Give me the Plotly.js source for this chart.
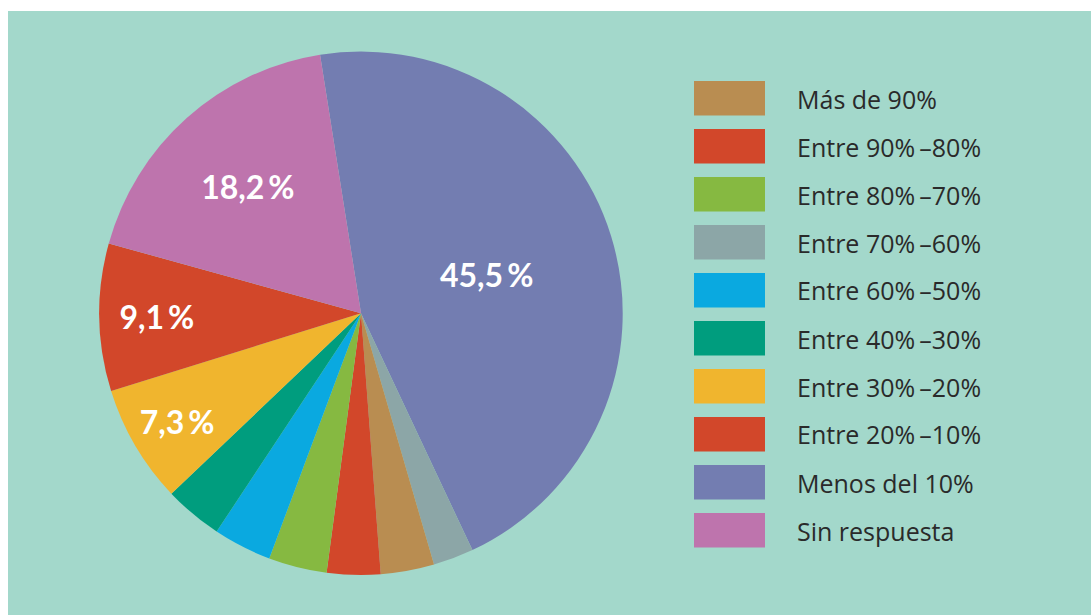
<!DOCTYPE html>
<html>
<head>
<meta charset="utf-8">
<script src="https://cdn.plot.ly/plotly-3.0.1.min.js"></script>
<style>
  html, body { margin: 0; padding: 0; background: #ffffff; width: 1091px; height: 615px; overflow: hidden; }
  #chart { position: absolute; left: 8px; top: 11px; width: 1083px; height: 604px; }
</style>
</head>
<body>
<div id="chart"></div>
<script>
// Categories, in legend order
const categories = ['Más de 90%', 'Entre 90%\u2009–80%', 'Entre 80%\u2009–70%', 'Entre 70%\u2009–60%',
  'Entre 60%\u2009–50%', 'Entre 40%\u2009–30%', 'Entre 30%\u2009–20%', 'Entre 20%\u2009–10%',
  'Menos del 10%', 'Sin respuesta'];
// Share of answers (%)
const values = [3.3, 3.3, 3.6, 2.5, 3.6, 3.6, 7.3, 9.1, 45.5, 18.2];
const colors = ['#b98d51', '#d2472a', '#86b941', '#8ca6a7', '#0aa9e0', '#009d7e', '#f0b52e', '#d2472a', '#737db1', '#be74ad'];
// Order of slices clockwise from the top of the pie
const sliceOrder = [8, 3, 0, 1, 2, 4, 5, 6, 7, 9];
// Values shown as labels inside the pie
const labelMin = 5;

const fmt = v => v >= labelMin ? v.toFixed(1).replace('.', ',') + '\u2009%' : '';

const pieTrace = {
  type: 'pie',
  labels: sliceOrder.map(i => categories[i]),
  values: sliceOrder.map(i => values[i]),
  text: sliceOrder.map(i => fmt(values[i])),
  marker: { colors: sliceOrder.map(i => colors[i]), line: { width: 0 } },
  textinfo: 'text',
  textposition: 'inside',
  insidetextorientation: 'horizontal',
  textfont: { family: 'Lato, sans-serif', size: 32, color: '#ffffff', weight: 'bold' },
  sort: false,
  direction: 'clockwise',
  rotation: -9,
  hoverinfo: 'none',
  domain: { x: [0.0843, 0.5676], y: [0.0662, 0.9328] },
  showlegend: false
};

const W = 1083, H = 604;
const shapes = [];
const annotations = [];
categories.forEach((c, i) => {
  const top = 70 + 48 * i;
  shapes.push({
    type: 'rect', xref: 'paper', yref: 'paper',
    x0: 686 / W, x1: 757 / W, y0: 1 - (top + 34.5) / H, y1: 1 - top / H,
    fillcolor: colors[i], line: { width: 0 }
  });
  annotations.push({
    xref: 'paper', yref: 'paper', x: 787 / W, y: 1 - (top + 17.5) / H,
    xanchor: 'left', yanchor: 'middle', showarrow: false,
    text: c, font: { family: '"Open Sans", sans-serif', size: 25, color: '#2a2a2a' }
  });
});

Plotly.newPlot('chart', [pieTrace], {
  width: W, height: H,
  margin: { l: 0, r: 0, t: 0, b: 0 },
  paper_bgcolor: '#a3d8cb',
  plot_bgcolor: '#a3d8cb',
  shapes: shapes,
  annotations: annotations,
  showlegend: false
}, { displayModeBar: false, staticPlot: true });
</script>
</body>
</html>
